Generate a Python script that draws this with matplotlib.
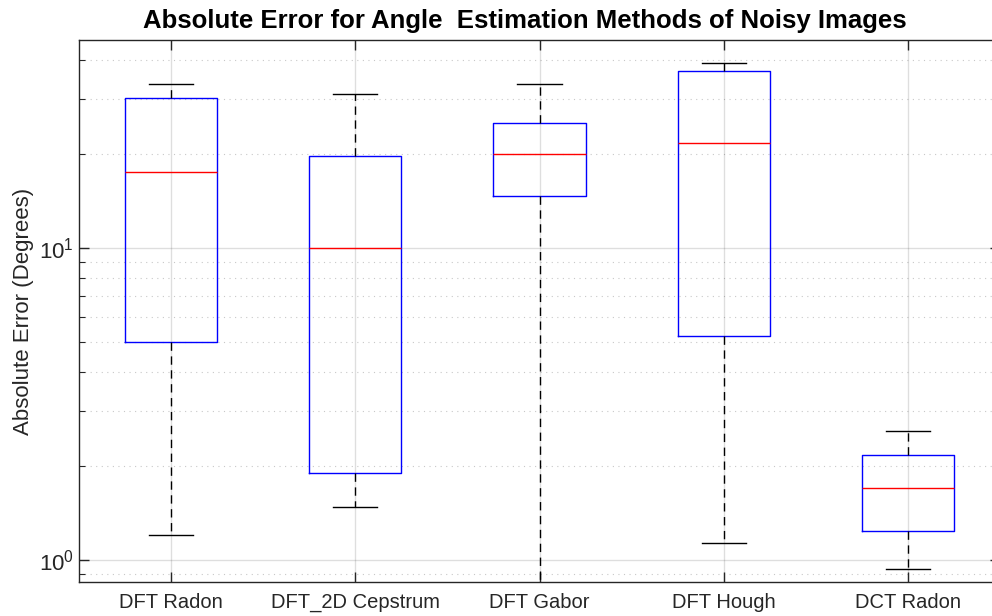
import matplotlib
matplotlib.use("Agg")
import matplotlib.pyplot as plt
from matplotlib.ticker import LogLocator, NullFormatter

methods = ["DFT Radon", "DFT_2D Cepstrum", "DFT Gabor", "DFT Hough", "DCT Radon"]
whisker_low = [1.20, 1.48, 0.70, 1.13, 0.934]
q1 = [4.99, 1.90, 14.6, 5.21, 1.24]
median = [17.5, 10.0, 19.9, 21.6, 1.70]
q3 = [30.1, 19.7, 25.1, 36.7, 2.16]
whisker_high = [33.3, 31.0, 33.4, 39.1, 2.59]

stats = []
for name, lo, a, m, b, hi in zip(methods, whisker_low, q1, median, q3, whisker_high):
    stats.append(dict(label=name, whislo=lo, q1=a, med=m, q3=b, whishi=hi, fliers=[]))

plt.rcParams['font.family'] = ['Liberation Sans', 'DejaVu Sans']
axcol = (0.15, 0.15, 0.15)

fig = plt.figure(figsize=(9.92, 6.16), dpi=100)
# axes run a little past the right edge of the canvas
ax = fig.add_axes([79 / 992, 34 / 616, 921 / 992, 542 / 616])

ax.bxp(stats, positions=range(1, 6), widths=0.5, showfliers=False,
       boxprops=dict(color='blue', linewidth=1.0),
       medianprops=dict(color='red', linewidth=1.0),
       whiskerprops=dict(color='black', linewidth=1.0, linestyle=(0, (6, 4))),
       capprops=dict(color='black', linewidth=1.0),
       capwidths=0.24, zorder=3)

ax.set_yscale('log')
ax.set_ylim(0.85, 46.2)
ax.set_xlim(0.5, 5.5)
ax.yaxis.set_major_locator(LogLocator(base=10))
ax.yaxis.set_minor_locator(LogLocator(base=10, subs=range(2, 10)))
ax.yaxis.set_minor_formatter(NullFormatter())

ax.grid(True, which='major', color=axcol, alpha=0.15, linewidth=1.0)
ax.grid(True, which='minor', axis='y', color=axcol, alpha=0.25, linewidth=0.8,
        linestyle=(0, (1, 4)))
ax.set_axisbelow(True)

ax.tick_params(which='both', direction='in', top=True, right=True, colors=axcol,
               labelcolor=axcol)
ax.tick_params(which='major', length=7, width=1.0)
ax.tick_params(which='minor', length=4, width=0.8)
ax.tick_params(axis='x', labelsize=14.5, pad=8)
ax.tick_params(axis='y', labelsize=16)
for side in ax.spines.values():
    side.set_color(axcol)
    side.set_linewidth(1.0)
ax.spines['right'].set_visible(False)

ax.set_ylabel("Absolute Error (Degrees)", fontsize=16, color=axcol, labelpad=4)
ax.set_title("Absolute Error for Angle  Estimation Methods of Noisy Images",
             fontsize=18.5, fontweight='bold', x=(525 - 79) / 921, pad=8.5)

fig.savefig("out.png", dpi=100)
